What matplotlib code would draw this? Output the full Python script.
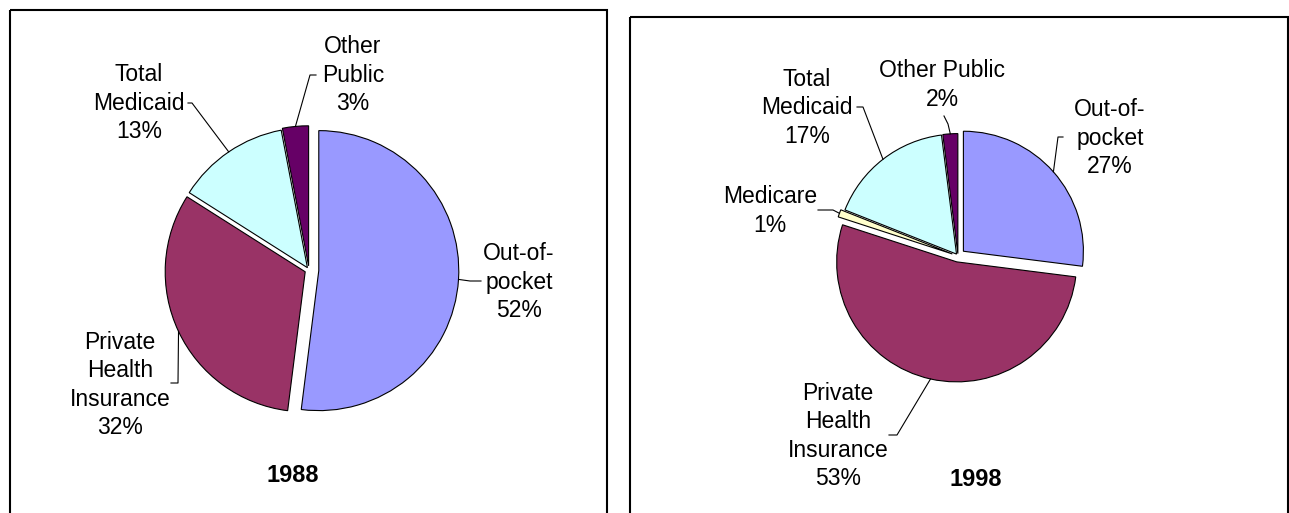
import math
import matplotlib
matplotlib.use("Agg")
import matplotlib.pyplot as plt
from matplotlib.patches import Rectangle

plt.rcParams['font.family'] = ['Liberation Sans', 'DejaVu Sans']

# 1988 spending shares (%)
cats_88 = ['Out-of-\npocket', 'Private\nHealth\nInsurance', 'Total\nMedicaid', 'Other\nPublic']
vals_88 = [52, 32, 13, 3]
cols_88 = ['#9999FF', '#993366', '#CCFFFF', '#660066']

# 1998 spending shares (%)
cats_98 = ['Out-of-\npocket', 'Private\nHealth\nInsurance', 'Medicare', 'Total\nMedicaid', 'Other Public']
vals_98 = [27, 53, 1, 17, 2]
cols_98 = ['#9999FF', '#993366', '#FFFFCC', '#CCFFFF', '#660066']

W, H = 1289, 513
fig = plt.figure(figsize=(W / 100, H / 100), dpi=100)
ax = fig.add_axes([0, 0, 1, 1])


def draw_pie(center, r, vals, cols, expl, labels, layout, year, year_pos):
    """
    Draws one exploded pie (clockwise from 12 o'clock, y axis is inverted)
    with elbow leader lines to the labels
    """
    wedges, _ = ax.pie(vals, colors=cols, center=center, radius=r,
                       explode=[e * r for e in expl], startangle=-90, counterclock=True,
                       wedgeprops=dict(edgecolor='black', linewidth=0.8))
    for w, lab, v, (tpos, pts) in zip(wedges, labels, vals, layout):
        tm = math.radians((w.theta1 + w.theta2) / 2)
        x0 = w.center[0] + w.r * math.cos(tm)
        y0 = w.center[1] + w.r * math.sin(tm)
        xs = [x0] + [p[0] for p in pts]
        ys = [y0] + [p[1] for p in pts]
        ax.plot(xs, ys, color='black', lw=0.8)
        ax.text(tpos[0], tpos[1], lab + '\n' + str(v) + '%', ha='center', va='center',
                multialignment='center', fontsize=16.5, linespacing=1.3)
    ax.text(year_pos[0], year_pos[1], year, ha='center', va='center',
            fontsize=17, fontweight='bold')


# label layout: (text centre, leader points after the arc point)
lay_88 = [((519, 282), [(470, 281), (481, 281)]),
          ((120, 385), [(178, 383), (171, 383)]),
          ((139, 103), [(192, 103), (188, 103)]),
          ((353, 75), [(310, 75), (316, 75)])]
lay_98 = [((1110, 138), [(1058, 137), (1063, 137)]),
          ((838, 436), [(897, 435), (889, 435)]),
          ((770, 211), [(833, 210), (818, 210)]),
          ((807, 108), [(863, 107), (857, 107)]),
          ((942, 85), [(948, 124), (944, 116)])]

draw_pie((309, 270), 140, vals_88, cols_88, [0.07, 0.03, 0.02, 0.03],
         cats_88, lay_88, '1988', (293, 476))
draw_pie((958, 256), 120, vals_98, cols_98, [0.06, 0.05, 0.05, 0.02, 0.02],
         cats_98, lay_98, '1998', (976, 480))

# panel frames
ax.add_patch(Rectangle((10, 10), 597, 600, fill=False, lw=1.5, edgecolor='black'))
ax.add_patch(Rectangle((630, 17), 658, 600, fill=False, lw=1.5, edgecolor='black'))

ax.set_xlim(0, W)
ax.set_ylim(H, 0)
ax.axis('off')

fig.savefig('out.png', dpi=100)
